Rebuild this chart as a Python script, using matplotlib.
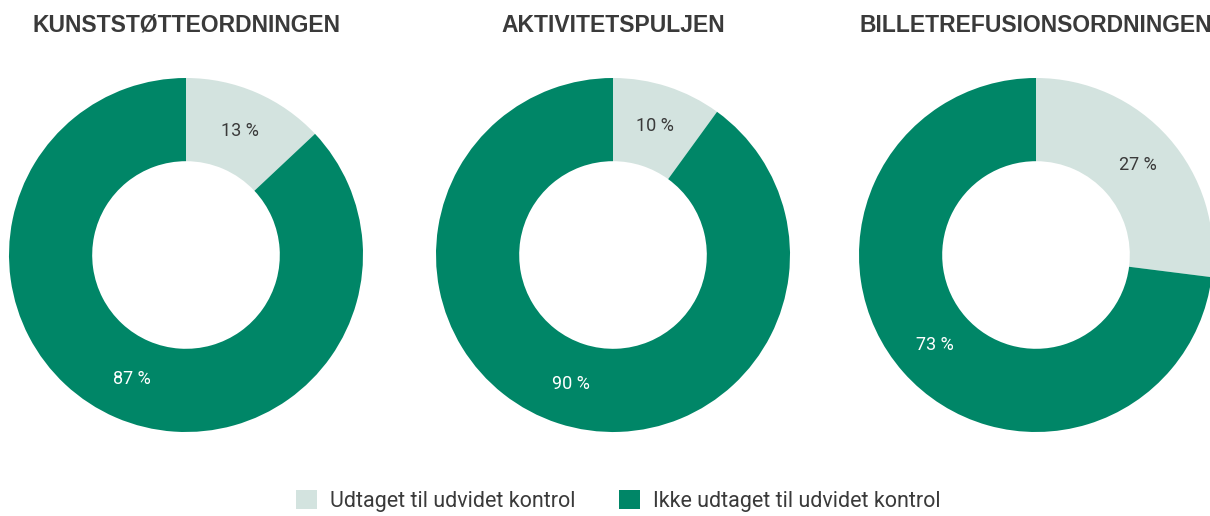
import matplotlib.pyplot as plt
from matplotlib.patches import Patch

# -------------------------- DATA --------------------------
titles = ['KUNSTSTØTTEORDNINGEN', 'AKTIVITETSPULJEN', 'BILLETREFUSIONSORDNINGEN']
udtaget = [13, 10, 27]          # Udtaget til udvidet kontrol (%)
ikke_udtaget = [87, 90, 73]     # Ikke udtaget til udvidet kontrol (%)
legend_labels = ['Udtaget til udvidet kontrol', 'Ikke udtaget til udvidet kontrol']

LIGHT = '#d3e3df'
DARK = '#008667'
TITLE_COL = '#3a3a3a'

W, H = 1210, 516
centers_x = [186, 613, 1036]
cy, R = 255, 177

plt.rcParams['font.family'] = ['Roboto', 'DejaVu Sans']

fig = plt.figure(figsize=(W / 100, H / 100), dpi=100)

for cx, title, a, b in zip(centers_x, titles, udtaget, ikke_udtaget):
    ax = fig.add_axes([(cx - R) / W, (H - cy - R) / H, 2 * R / W, 2 * R / H])
    wedges, texts, autotexts = ax.pie(
        [a, b], colors=[LIGHT, DARK], startangle=90, counterclock=False,
        radius=1, autopct=lambda p: f'{p:.0f} %', pctdistance=0.765,
        wedgeprops=dict(width=0.47, linewidth=0),
        textprops=dict(fontsize=13))
    autotexts[0].set_color('#3a3a3a')
    autotexts[1].set_color('white')
    ax.set_xlim(-1, 1)
    ax.set_ylim(-1, 1)
    ax.set_aspect('equal')
    ax.axis('off')
    fig.text(cx / W, 1 - 25 / H, title, ha='center', va='center',
             fontsize=16.5, fontweight='bold', color=TITLE_COL,
             family=['Liberation Sans', 'DejaVu Sans'])

handles = [Patch(facecolor=LIGHT, edgecolor='none'),
           Patch(facecolor=DARK, edgecolor='none')]
fig.legend(handles, legend_labels, loc='center', bbox_to_anchor=(0.511, 0.03),
           ncol=2, frameon=False, fontsize=15.5, labelcolor='#3a3a3a',
           handlelength=1.0, handleheight=1.0, handletextpad=0.6,
           columnspacing=2.0, borderpad=0.2)

fig.savefig('out.png', dpi=100)
